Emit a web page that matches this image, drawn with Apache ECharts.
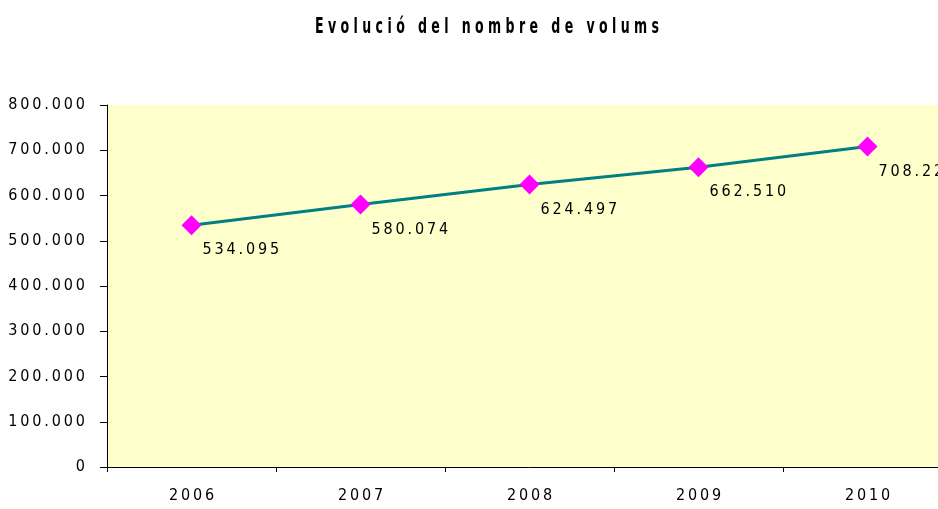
<!DOCTYPE html>
<html><head><meta charset="utf-8">
<script src="https://cdn.jsdelivr.net/npm/echarts@6/dist/echarts.min.js"></script>
<style>html,body{margin:0;padding:0;background:#fff;overflow:hidden}#c{width:960px;height:509px}</style>
</head><body><div id="c"></div>
<script>
const titleText = 'Evolució del nombre de volums';
const years = ['2006', '2007', '2008', '2009', '2010'];
const volumes = [534095, 580074, 624497, 662510, 708223];
const yMin = 0, yMax = 800000, yStep = 100000;

const SP = '\u2009';
function fmtThousands(v) {
  return String(Math.round(v)).replace(/\B(?=(\d{3})+(?!\d))/g, '.');
}
function spaced(s) { return s.split('').join(SP); }
function spacedTitle(s) { return s.split(' ').map(w => w.split('').join(' ')).join('   '); }

const FONT = '"DejaVu Sans Condensed", "Liberation Sans Narrow", "Arial Narrow", sans-serif';
const chart = echarts.init(document.getElementById('c'), null, {renderer: 'canvas'});
chart.setOption({
  animation: false,
  backgroundColor: '#ffffff',
  graphic: [{
    type: 'text', x: 487, y: 27, scaleY: 1.55,
    style: {
      text: spacedTitle(titleText), align: 'center', verticalAlign: 'middle',
      font: 'bold 14px "DejaVu Sans Condensed", sans-serif', fill: '#000'
    }
  }],
  grid: {
    left: 107, top: 105, width: 845, height: 362,
    show: true, backgroundColor: '#FFFFCC', borderWidth: 0, containLabel: false
  },
  xAxis: {
    type: 'category', data: years, boundaryGap: true,
    axisLine: {lineStyle: {color: '#000', width: 1}},
    axisTick: {show: true, length: 5, lineStyle: {color: '#000'}},
    axisLabel: {fontFamily: FONT, fontSize: 16, color: '#000', margin: 21, formatter: v => spaced(v)},
    splitLine: {show: false}
  },
  yAxis: {
    type: 'value', min: yMin, max: yMax, interval: yStep,
    axisLine: {show: true, lineStyle: {color: '#000', width: 1}},
    axisTick: {show: true, length: 7, lineStyle: {color: '#000'}},
    axisLabel: {fontFamily: FONT, fontSize: 16, color: '#000', margin: 22,
      formatter: v => spaced(fmtThousands(v))},
    splitLine: {show: false}
  },
  series: [{
    type: 'line', data: volumes,
    lineStyle: {color: '#008080', width: 3},
    symbol: 'diamond', symbolSize: 20,
    itemStyle: {color: '#FF00FF'},
    label: {
      show: true, position: [21, 35], align: 'left', verticalAlign: 'middle',
      fontFamily: FONT, fontSize: 16, color: '#000',
      formatter: p => spaced(fmtThousands(p.value))
    }
  }]
});
</script></body></html>
